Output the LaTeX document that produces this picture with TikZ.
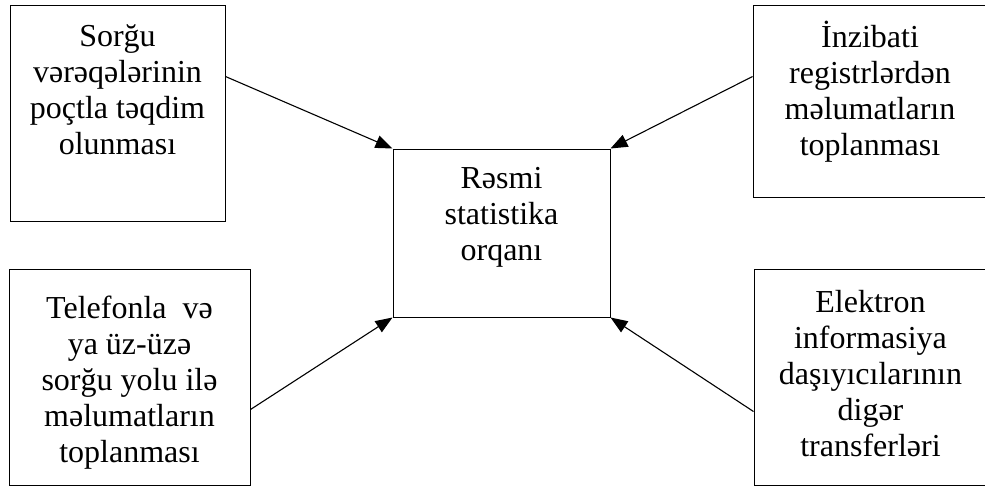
\documentclass[tikz,border=0pt]{standalone}
\usepackage{fontspec}
\setmainfont{Liberation Serif}
\usetikzlibrary{arrows.meta}
\begin{document}
\begin{tikzpicture}[x=1pt,y={(0pt,-1pt)},
  box/.style={draw=black,line width=1pt,inner sep=0pt,fill=none},
  txt/.style={anchor=north,align=center,inner sep=0pt,font=\fontsize{32}{36}\selectfont},
  arr/.style={draw=black,line width=1.1pt,-{Triangle[length=17pt,width=13pt]}}]
\useasboundingbox (0,0) rectangle (985,488);
\clip (0,0) rectangle (985,488);
\fill[white] (0,0) rectangle (985,488);
% boxes
\node[box,minimum width=215pt,minimum height=216pt] (tl) at (117.5,113) {};
\node[box,minimum width=234pt,minimum height=192pt] (tr) at (870,101) {};
\node[box,minimum width=217pt,minimum height=168pt] (c) at (501.5,233) {};
\node[box,minimum width=241pt,minimum height=216pt] (bl) at (129.5,377) {};
\node[box,minimum width=233pt,minimum height=216pt] (br) at (870.5,377) {};
% texts
\node[txt] (tlt) at ([yshift=-20pt]tl.north) {Sorğu\\vərəqələrinin\\poçtla təqdim\\olunması};
\node[txt] (trt) at ([yshift=-16pt]tr.north) {İnzibati\\registrlərdən\\məlumatların\\toplanması};
\node[txt] (ct) at ([yshift=-19pt]c.north) {Rəsmi\\statistika\\orqanı};
\node[txt] (blt) at ([yshift=-27pt]bl.north) {Telefonla~~və\\ya üz-üzə\\sorğu yolu ilə\\məlumatların\\toplanması};
\node[txt] (brt) at ([yshift=-22pt]br.north) {Elektron\\informasiya\\daşıyıcılarının\\digər\\transferləri};
% arrows
\draw[arr] ([yshift=-72pt]tl.north east) -- (c.north west);
\draw[arr] ([yshift=-72pt]tr.north west) -- (c.north east);
\draw[arr] ([yshift=-141pt]bl.north east) -- (c.south west);
\draw[arr] ([yshift=-143pt]br.north west) -- (c.south east);
\end{tikzpicture}
\end{document}
